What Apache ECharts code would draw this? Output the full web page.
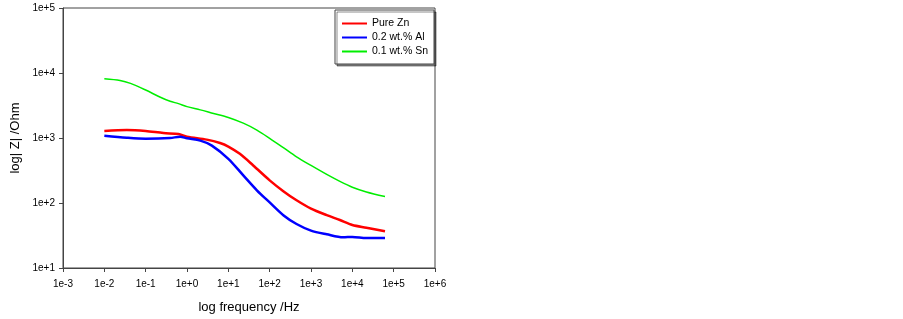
<!DOCTYPE html>
<html>
<head>
<meta charset="utf-8">
<script src="https://cdn.jsdelivr.net/npm/echarts@6/dist/echarts.min.js"></script>
<style>
  html, body { margin: 0; padding: 0; background: #fff; }
  #chart { width: 903px; height: 319px; }
</style>
</head>
<body>
<div id="chart"></div>
<script>
const seriesNames = ['Pure Zn', '0.2 wt.% Al', '0.1 wt.% Sn'];
const seriesColors = ['#ff0000', '#0000ff', '#00ee00'];

// [frequency Hz, |Z| Ohm]
const pureZn = [
  [0.01, 1280], [0.035, 1325], [0.1, 1280], [0.27, 1190], [0.62, 1150],
  [1, 1048], [3.0, 944], [6.3, 839], [10, 738], [19, 570], [40, 378],
  [100, 223], [214, 152], [447, 110], [1000, 82], [2400, 65], [5000, 54.7],
  [10000, 45.9], [21900, 41.7], [61700, 36.7],
];
const al02 = [
  [0.01, 1087], [0.035, 1012], [0.1, 977], [0.39, 1000], [0.68, 1048],
  [1, 990], [2.1, 910], [4.0, 764], [10, 478], [23, 266], [49, 157],
  [100, 102], [214, 65], [447, 47.5], [1000, 37.6], [2400, 33], [6000, 29.7],
  [10000, 30.1], [21900, 29], [61700, 29],
];
const sn01 = [
  [0.01, 8150], [0.024, 7670], [0.043, 6920], [0.1, 5470], [0.22, 4280],
  [0.39, 3670], [0.62, 3380], [1, 3040], [2.1, 2710], [4.4, 2380],
  [10, 2070], [23, 1690], [49, 1325], [100, 990], [214, 711], [447, 513],
  [1000, 378], [2400, 275], [5000, 215], [10000, 175], [21900, 148], [61700, 126],
];
const seriesData = [pureZn, al02, sn01];
const lineWidths = [2.5, 2.5, 1.5];

const fmtExp = (v) => Number(v).toExponential(0);

const chart = echarts.init(document.getElementById('chart'));
chart.setOption({
  animation: false,
  backgroundColor: '#fff',
  textStyle: { fontFamily: 'Liberation Sans, Arial, sans-serif' },
  grid: {
    left: 63, right: 468, top: 8, bottom: 49,
    show: true, borderColor: '#444', borderWidth: 1,
  },
  legend: {
    orient: 'vertical',
    left: 335, top: 10,
    padding: [8, 6, 7, 7],
    itemWidth: 25, itemHeight: 11, itemGap: 3,
    backgroundColor: '#fff',
    borderColor: '#444', borderWidth: 1,
    shadowColor: 'rgba(0,0,0,0.45)', shadowOffsetX: 2, shadowOffsetY: 2, shadowBlur: 0,
    icon: 'path://M0,4.5 L25,4.5 L25,6.5 L0,6.5 Z',
    textStyle: { fontSize: 10.5, color: '#000' },
    data: seriesNames,
  },
  xAxis: {
    type: 'log', logBase: 10, min: 0.001, max: 1e6,
    name: 'log frequency /Hz', nameLocation: 'middle', nameGap: 33,
    nameTextStyle: { fontSize: 13, color: '#000' },
    axisLine: { show: true, onZero: false, lineStyle: { color: '#444' } },
    axisTick: { show: true, inside: false, length: 4, lineStyle: { color: '#444' } },
    minorTick: { show: false },
    splitLine: { show: false },
    axisLabel: { fontSize: 10, color: '#000', margin: 11, formatter: fmtExp },
  },
  yAxis: {
    type: 'log', logBase: 10, min: 10, max: 1e5,
    name: 'log| Z| /Ohm', nameLocation: 'middle', nameGap: 41,
    nameTextStyle: { fontSize: 13, color: '#000' },
    axisLine: { show: true, onZero: false, lineStyle: { color: '#444' } },
    axisTick: { show: true, inside: false, length: 4, lineStyle: { color: '#444' } },
    splitLine: { show: false },
    axisLabel: { fontSize: 10, color: '#000', margin: 8, formatter: fmtExp },
  },
  series: seriesNames.map((name, i) => ({
    name,
    type: 'line',
    smooth: 0.3,
    showSymbol: false,
    data: seriesData[i],
    lineStyle: { width: lineWidths[i], color: seriesColors[i] },
    itemStyle: { color: seriesColors[i] },
  })),
});
</script>
</body>
</html>
